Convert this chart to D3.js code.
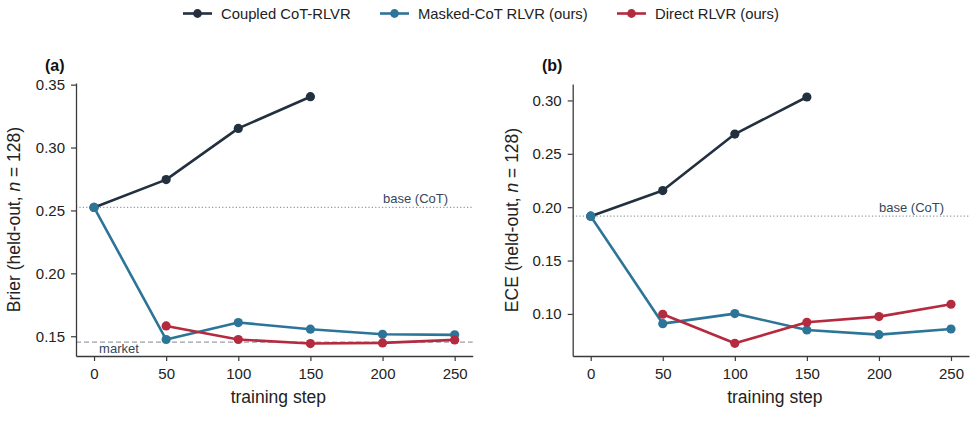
<!DOCTYPE html>
<html><head><meta charset="utf-8">
<script src="https://cdn.jsdelivr.net/npm/d3@7"></script>
<style>
body{margin:0;background:#fff;}
svg{display:block;font-family:"Liberation Sans",Arial,Helvetica,sans-serif;}
</style></head><body>
<svg id="c" width="980" height="427"></svg>
<script>
const steps = [0, 50, 100, 150, 200, 250];
const directSteps = [50, 100, 150, 200, 250];
const coupledSteps = [0, 50, 100, 150];
const seriesNames = ["Coupled CoT-RLVR", "Masked-CoT RLVR (ours)", "Direct RLVR (ours)"];
const seriesColors = ["#23303f", "#2d7598", "#b42a3e"];

// Panel (a): Brier
const brierCoupled = [0.2524, 0.2745, 0.3152, 0.3404];
const brierMasked = [0.2524, 0.1474, 0.1609, 0.1556, 0.1516, 0.1511];
const brierDirect = [0.1582, 0.1474, 0.1442, 0.1447, 0.1471];
const brierBase = 0.2524;
const brierMarket = 0.1454;
const brierTicks = [0.15, 0.20, 0.25, 0.30, 0.35];

// Panel (b): ECE
const eceCoupled = [0.1916, 0.2156, 0.2685, 0.3032];
const eceMasked = [0.1916, 0.0909, 0.1003, 0.0850, 0.0806, 0.0859];
const eceDirect = [0.0997, 0.0725, 0.0922, 0.0975, 0.1091];
const eceBase = 0.1916;
const eceTicks = [0.10, 0.15, 0.20, 0.25, 0.30];

const svg = d3.select("#c");
const axisColor = "#3a3a3a";
const textColor = "#222";

function panel(opts){
  const g = svg.append("g");
  const x = d3.scaleLinear().domain([-12.5, 262.5]).range([opts.left, opts.right]);
  const y = d3.scaleLinear().domain(opts.ydom).range([opts.bottom, opts.top]);

  // reference lines
  g.append("line").attr("x1", opts.left).attr("x2", opts.right)
    .attr("y1", y(opts.base)).attr("y2", y(opts.base))
    .attr("stroke", "#8d9aa6").attr("stroke-width", 1.1).attr("stroke-dasharray", "1.2,2.2");
  g.append("text").attr("x", opts.baseLabelX).attr("y", y(opts.base) - 4)
    .attr("font-size", 13).attr("fill", "#33475b").text("base (CoT)");
  if (opts.market !== undefined){
    g.append("line").attr("x1", opts.left).attr("x2", opts.right)
      .attr("y1", y(opts.market)).attr("y2", y(opts.market))
      .attr("stroke", "#9aa0a8").attr("stroke-width", 1.3).attr("stroke-dasharray", "5,3");
    g.append("text").attr("x", x(3.5)).attr("y", y(opts.market) + 11)
      .attr("font-size", 13).attr("fill", "#33475b").text("market");
  }

  // axes
  const xa = g.append("g").attr("transform", `translate(0,${opts.bottom})`)
    .call(d3.axisBottom(x).tickValues(steps).tickSize(5).tickPadding(7).tickSizeOuter(0));
  const ya = g.append("g").attr("transform", `translate(${opts.left},0)`)
    .call(d3.axisLeft(y).tickValues(opts.ticks).tickFormat(d3.format(".2f")).tickSize(5).tickPadding(6).tickSizeOuter(0));
  [xa, ya].forEach(a => {
    a.select(".domain").attr("stroke", axisColor).attr("stroke-width", 1.3);
    a.selectAll(".tick line").attr("stroke", axisColor).attr("stroke-width", 1.2);
    a.selectAll(".tick text").attr("font-size", 15).attr("fill", textColor)
      .attr("font-family", '"Liberation Sans",Arial,sans-serif');
  });

  g.append("text").attr("x", (opts.left + opts.right)/2 + 4).attr("y", 403)
    .attr("text-anchor", "middle").attr("font-size", 17.5).attr("fill", textColor).text("training step");
  const yl = g.append("text").attr("transform", `translate(${opts.ylabX},${(opts.top+opts.bottom)/2}) rotate(-90)`)
    .attr("text-anchor", "middle").attr("font-size", 17.5).attr("fill", textColor);
  yl.append("tspan").text(opts.ylab + " (held-out, ");
  yl.append("tspan").attr("font-style", "italic").text("n");
  yl.append("tspan").text(" = 128)");

  g.append("text").attr("x", opts.panelX).attr("y", 71).attr("font-size", 16).attr("font-weight", "bold")
    .attr("fill", "#111").text(opts.panelLabel);

  const line = d3.line().x(d => x(d[0])).y(d => y(d[1]));
  opts.series.forEach((s, i) => {
    const pts = s.xs.map((v, j) => [v, s.ys[j]]);
    g.append("path").attr("d", line(pts)).attr("fill", "none")
      .attr("stroke", seriesColors[i]).attr("stroke-width", 2.6).attr("stroke-linejoin", "round");
    g.selectAll(null).data(pts).enter().append("circle")
      .attr("cx", d => x(d[0])).attr("cy", d => y(d[1])).attr("r", 4.6)
      .attr("fill", seriesColors[i]);
  });
}

panel({left: 76, right: 472.7, top: 83, bottom: 356, ydom: [0.1343, 0.3513], ticks: brierTicks,
  base: brierBase, market: brierMarket, baseLabelX: 383, ylab: "Brier", ylabX: 20, panelX: 45, panelLabel: "(a)",
  series: [{xs: coupledSteps, ys: brierCoupled}, {xs: steps, ys: brierMasked}, {xs: directSteps, ys: brierDirect}]});

panel({left: 572.7, right: 969, top: 84, bottom: 356, ydom: [0.0606, 0.3154], ticks: eceTicks,
  base: eceBase, baseLabelX: 879, ylab: "ECE", ylabX: 518, panelX: 542, panelLabel: "(b)",
  series: [{xs: coupledSteps, ys: eceCoupled}, {xs: steps, ys: eceMasked}, {xs: directSteps, ys: eceDirect}]});

// legend
const legX = [183, 380, 617];
seriesNames.forEach((n, i) => {
  const lg = svg.append("g");
  lg.append("line").attr("x1", legX[i]).attr("x2", legX[i] + 29).attr("y1", 13.5).attr("y2", 13.5)
    .attr("stroke", seriesColors[i]).attr("stroke-width", 2.6);
  lg.append("circle").attr("cx", legX[i] + 14.5).attr("cy", 13.5).attr("r", 4.4).attr("fill", seriesColors[i]);
  lg.append("text").attr("x", legX[i] + 38).attr("y", 19).attr("font-size", 14.8).attr("fill", textColor).text(n);
});
</script>
</body></html>
